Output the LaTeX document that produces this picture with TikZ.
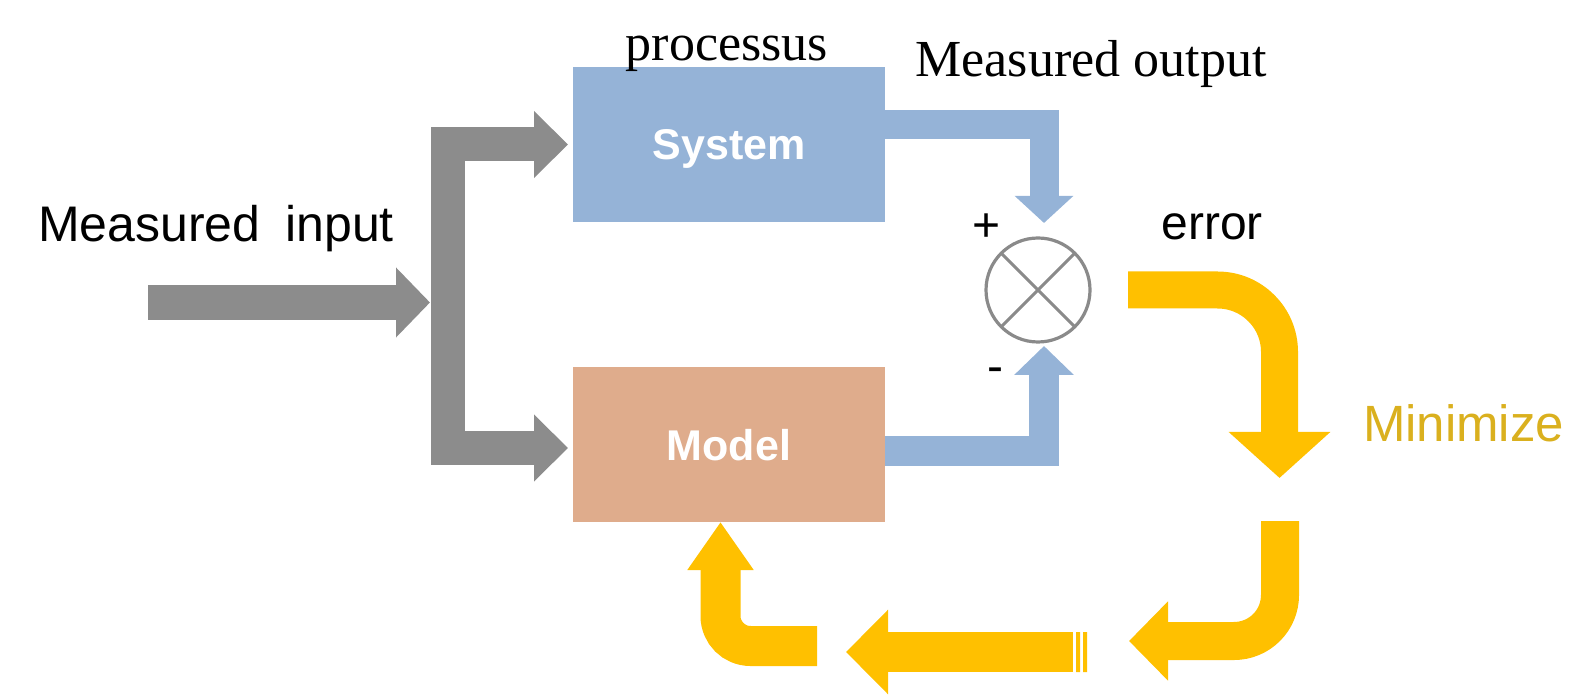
\documentclass[tikz,border=0pt]{standalone}
\usepackage{fontspec}
\usepackage{tikz}
\usetikzlibrary{calc,arrows.meta}
\newfontfamily\arialf{Liberation Sans}
\newfontfamily\timesf{Liberation Serif}
\definecolor{sysblue}{RGB}{149,179,215}
\definecolor{mdlbrown}{RGB}{223,172,140}
\definecolor{flowgray}{RGB}{140,140,140}
\definecolor{sumgray}{RGB}{138,138,138}
\definecolor{yelloop}{RGB}{255,192,0}
\definecolor{mintext}{RGB}{218,176,30}

\begin{document}
\begin{tikzpicture}[x=0.5pt,y=-0.5pt,inner sep=0pt,outer sep=0pt,
    blockbox/.style={minimum width=156pt,minimum height=77.5pt,text=white,text depth=0pt,
        font=\arialf\bfseries\fontsize{21.5}{26}\selectfont},
    yelarrow/.style={yelloop,line width=19pt},
    sanslbl/.style={font=\arialf\fontsize{24}{29}\selectfont},
    seriflbl/.style={font=\timesf\fontsize{26}{31}\selectfont}]
    \useasboundingbox (0,0) rectangle (1572,699);

    % blocks
    \node[blockbox,fill=sysblue] (sys) at (729,144.5) {System};
    \node[blockbox,fill=mdlbrown] (mdl) at (729,444.5) {Model};
    \node[circle,draw=sumgray,line width=1.6pt,minimum size=52pt] (sum) at (1038,290) {};
    \draw[sumgray,line width=1.5pt] (sum.north east) -- (sum.south west)
        (sum.north west) -- (sum.south east);

    % input split
    \coordinate (in) at (148,302.5);
    \coordinate (split) at (448,302.5);
    \draw[flowgray,line width=17.5pt,-{Triangle[length=17pt,width=34pt]}]
        (in) -- ([xshift=-9pt]split);
    \draw[flowgray,line width=17pt,line join=miter,
        {Triangle[length=17pt,width=32.5pt]}-{Triangle[length=17pt,width=32.5pt]}]
        ([xshift=-2.5pt]sys.west) -| (split) |- ([xshift=-2.5pt,yshift=-1.75pt]mdl.west);

    % outputs to comparator
    \draw[sysblue,line width=14.5pt,line join=miter,-{Triangle[length=13.5pt,width=28.5pt]}]
        ([yshift=9.75pt]sys.east) -| ([xshift=3pt,yshift=7.5pt]sum.north);
    \draw[sysblue,line width=15pt,line join=miter,-{Triangle[length=14.5pt,width=29pt]}]
        ([yshift=-3.25pt]mdl.east) -| ([xshift=3pt,yshift=-2pt]sum.south);

    % error loop
    \coordinate (minpt) at (1279.5,478);
    \draw[yelarrow,line width=18.5pt,rounded corners=31pt,-{Triangle[length=23pt,width=49.5pt]}]
        ([xshift=19pt]sum.east) -| (minpt);
    \coordinate (jtop) at (1280,521);
    \coordinate (jtip) at (1129,641);
    \draw[yelarrow,rounded corners=23pt,-{Triangle[length=19.5pt,width=38.5pt]}]
        (jtop) |- (jtip);
    \coordinate (stail) at (1073,652);
    \coordinate (stip) at (846,652);
    \draw[yelarrow,line width=20pt,-{Triangle[length=21pt,width=41pt]}] (stail) -- (stip);
    \fill[yelloop] (1076,632) rectangle (1080,672) (1083,632) rectangle (1087,672);
    \coordinate (htail) at (817,646);
    \draw[yelarrow,line width=20pt,rounded corners=15pt,-{Triangle[length=24pt,width=31.5pt]}]
        (htail) -| ([xshift=-4.25pt]mdl.south);

    % labels
    \node[anchor=base west,font=\arialf\fontsize{25}{30}\selectfont] (inlbl) at (38,242)
        {Measured\hspace{0.5em}input};
    \node[seriflbl,anchor=base] (proclbl) at (727,61) {processus};
    \node[seriflbl,anchor=base] (outlbl) at (1091,77) {Measured output};
    \node[sanslbl,anchor=base] (errlbl) at (1212,240) {error};
    \node[sanslbl] (plus) at ($(sum)+(-26pt,31pt)$) {+};
    \node[sanslbl] (minus) at ($(sum)+(-21.5pt,-42.5pt)$) {-};
    \node[anchor=base west,text=mintext,font=\arialf\fontsize{25.5}{30}\selectfont] (minlbl)
        at (1363,442) {Minimize};

\end{tikzpicture}
\end{document}
